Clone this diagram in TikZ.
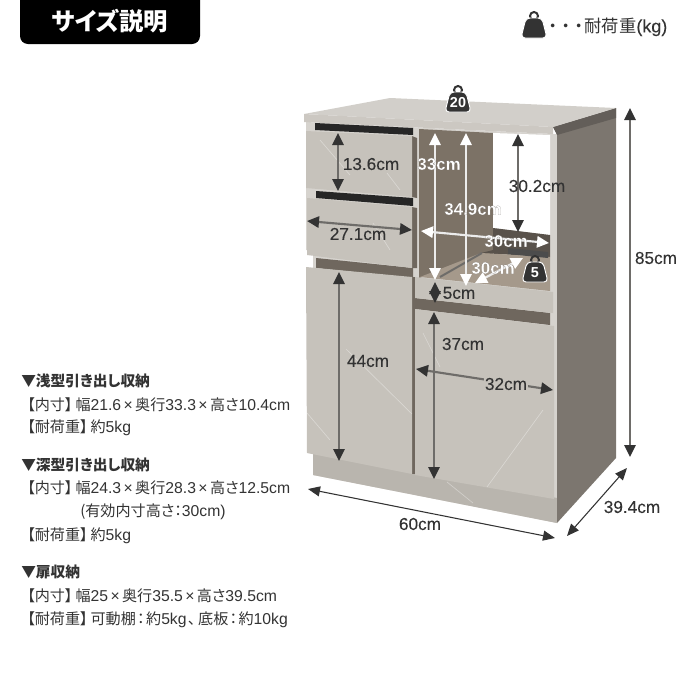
\documentclass[tikz,border=0pt]{standalone}
\usepackage{fontspec}
\usetikzlibrary{arrows.meta}
\setmainfont{Liberation Sans}
\newfontfamily\jpfont[Scale=0.96,RawFeature=+palt]{Noto Sans CJK JP}
\newcommand{\jp}[1]{{\jpfont #1}}
\newcommand{\whitecm}[1]{\bfseries\addfontfeature{FakeBold=0.1}\special{pdf:code 0.32 0.30 0.28 RG}#1}
\newcommand{\tm}{\kern1.8pt×\kern1.8pt}
\newcommand{\brk}{\kern2.2pt}
\definecolor{inkdark}{HTML}{333333}
\definecolor{shaftgray}{HTML}{6E6C69}
\definecolor{frontgray}{HTML}{C6C2BB}
\definecolor{topgray}{HTML}{D2CFCA}
\definecolor{carcass}{HTML}{D6D3CE}
\definecolor{sidegray}{HTML}{7C766F}
\definecolor{plinthgray}{HTML}{B9B5AE}
\definecolor{niche}{HTML}{7C7266}
\definecolor{floorgray}{HTML}{A5998B}
\definecolor{slotgray}{HTML}{6F675E}
\tikzset{
  dimdark/.style={draw=shaftgray,line width=1.6pt,
    {Triangle[length=9pt,width=8.5pt,color=inkdark,fill=inkdark]}-{Triangle[length=9pt,width=8.5pt,color=inkdark,fill=inkdark]}},
  dimwhite/.style={draw=white!85!gray,line width=1.6pt,
    {Triangle[length=9pt,width=8.5pt,color=white,fill=white]}-{Triangle[length=9pt,width=8.5pt,color=white,fill=white]}},
  dimthin/.style={draw=inkdark,line width=0.8pt,
    {Triangle[length=9pt,width=7.5pt,color=inkdark,fill=inkdark]}-{Triangle[length=9pt,width=7.5pt,color=inkdark,fill=inkdark]}},
  dimlabel/.style={inner sep=0pt,text=inkdark,font=\fontsize{12.9}{14}\selectfont\addfontfeature{FakeBold=0.1}},
  whitelabel/.style={inner sep=0pt,text=white,font=\fontsize{12.7}{14}\selectfont},
  specline/.style={inner sep=0pt,anchor=west,text=inkdark,font=\fontsize{11.8}{13}\selectfont},
  spechead/.style={inner sep=0pt,anchor=west,text=inkdark,font=\fontsize{11.5}{13}\selectfont\jpfont\bfseries},
  vein/.style={draw=white,line width=0.5pt,opacity=0.35},
  weightbag/.pic={
    \draw[inkdark,line width=1.5pt] (0,-9) circle (4);
    \draw[white,line width=0.7pt,fill=inkdark,rounded corners=3pt] (-8,-7) -- (8,-7) -- (13,13) -- (-13,13) -- cycle;
  }
}
\begin{document}
\begin{tikzpicture}[x=0.75pt,y=-0.75pt]
  \useasboundingbox (0,0) rectangle (690,690);
  % title and legend
  \fill[black,rounded corners=6pt] (20,-10) rectangle (200,44);
  \node[inner sep=0pt,text=white,font=\fontsize{19}{21}\selectfont\jpfont\bfseries] (title) at (110,21) {サイズ説明};
  \pic at (534,25) {weightbag};
  \node[inner sep=0pt,anchor=west,text=inkdark,font=\fontsize{13.5}{15}\selectfont\addfontfeature{FakeBold=0.1}] (legend) at (549,27) {\jp{・\kern3pt・\kern3pt・\kern1pt耐荷重}(kg)};
  % cabinet body
  \fill[carcass] (306,122) -- (553,134) -- (557,134) -- (557,523) -- (313,475) -- (313,250) -- (306,250) -- cycle;
  \fill[plinthgray] (313,453) -- (557,498) -- (557,523) -- (313,475) -- cycle;
  \fill[sidegray] (553,127) -- (616,108) -- (616,458) -- (557,523) -- (557,134) -- cycle;
  \fill[sidegray!80!black] (553,127) -- (616,108) -- (616,118) -- (557,135) -- cycle;
  \fill[topgray] (304,114) -- (390,98) -- (616,108) -- (553,127) -- cycle;
  \fill[frontgray!90!white] (304,114) -- (553,127) -- (553,134) -- (304,122) -- cycle;
  % open niche
  \fill[niche] (419,129) -- (493,133) -- (493,255) -- (419,278) -- cycle;
  \fill[white] (493,133) -- (550,135) -- (550,235) -- (493,228) -- cycle;
  \fill[slotgray!80!black] (493,228) -- (550,235) -- (550,257) -- (481,253) -- (493,250) -- cycle;
  \fill[floorgray] (420,277) -- (481,253) -- (550,257) -- (550,291) -- cycle;
  \fill[black!70] (508,248) -- (548,252) -- (548,258) -- (508,254) -- cycle;
  \draw[shaftgray,line width=1.5pt] (440,277) -- (482,253);
  % small drawer and slot under it
  \fill[slotgray] (415,298) -- (550,313) -- (550,325) -- (415,309) -- cycle;
  \fill[frontgray] (415,277) -- (553,292) -- (553,313) -- (415,298) -- cycle;
  % left side slots and fronts
  \fill[black!85] (315,123) -- (413,128) -- (413,135) -- (315,130) -- cycle;
  \fill[black!85] (316,191) -- (413,198) -- (413,206) -- (316,198) -- cycle;
  \fill[slotgray] (316,258) -- (413,268) -- (413,278) -- (316,268) -- cycle;
  \fill[slotgray] (412,136) -- (417,138) -- (417,198) -- (412,197) -- cycle;
  \fill[slotgray] (412,207) -- (417,208) -- (417,268) -- (412,268) -- cycle;
  \fill[slotgray] (412,277) -- (415,277) -- (415,474) -- (412,474) -- cycle;
  \fill[frontgray] (306,131) -- (412,136) -- (412,197) -- (306,188) -- cycle;
  \fill[frontgray] (307,198) -- (412,207) -- (412,268) -- (307,255) -- cycle;
  \fill[frontgray] (306,267) -- (412,277) -- (412,474) -- (307,453) -- cycle;
  \fill[frontgray] (415,309) -- (554,326) -- (554,499) -- (415,475) -- cycle;
  \foreach \xa/\ya/\xb/\yb in {
    346/349/412/414, 307/413/330/440, 487/487/543/410, 423/333/440/367,
    387/173/400/190, 373/223/390/250, 447/482/473/503, 320/140/350/175%
  }
    \draw[vein] (\xa,\ya) -- (\xb,\yb);
  % dimension arrows
  \foreach \dimname/\xa/\ya/\xb/\yb/\dimstyle in {
    drawera/338/133/338/191/dimdark, drawerb/307/221/412/230/dimdark,
    nicheh/518/134/518/232/dimdark, lowfront/435/282/435/303/dimdark,
    doorl/339/272/339/461/dimdark, doorr/434/312/434/479/dimdark,
    doorw/416/369/553/390/dimdark, total/630/108/630/457/dimdark,
    nichea/435/133/435/280/dimwhite, nicheb/466/133/466/286/dimwhite,
    nichew/421/231/549/243/dimwhite, niched/523/258/475/283/dimwhite,
    depth/627/468/567/536/dimthin, width/308/489/555/538/dimthin%
  }{
    \coordinate (\dimname a) at (\xa,\ya);
    \coordinate (\dimname b) at (\xb,\yb);
    \draw[\dimstyle] (\dimname a) -- (\dimname b);
  }
  % weights
  \pic at (458,99) {weightbag};
  \node[inner sep=0pt,text=white,font=\fontsize{10.8}{12}\selectfont\bfseries] (load20) at (458,103) {20};
  \pic at (535,269) {weightbag};
  \node[inner sep=0pt,text=white,font=\fontsize{10.8}{12}\selectfont\bfseries] (load5) at (535,273) {5};
  % labels
  \node[dimlabel] (l136) at (371,164) {13.6cm};
  \node[dimlabel] (l271) at (358,234) {27.1cm};
  \node[dimlabel] (l302) at (537,186) {30.2cm};
  \node[dimlabel] (l5) at (459,293) {5cm};
  \node[dimlabel] (l44) at (368,361) {44cm};
  \node[dimlabel] (l37) at (463,344) {37cm};
  \node[dimlabel,fill=frontgray,inner sep=1pt] (l32) at (506,384) {32cm};
  \node[dimlabel] (l85) at (656,258) {85cm};
  \node[dimlabel] (l60) at (420,524) {60cm};
  \node[dimlabel] (l394) at (632,507) {39.4cm};
  \node[whitelabel] (l33) at (439,164) {\whitecm{33cm}};
  \node[whitelabel] (l349) at (473,209) {\whitecm{34.9cm}};
  \node[whitelabel] (l30a) at (506,241) {\whitecm{30cm}};
  \node[whitelabel] (l30b) at (493,268) {\whitecm{30cm}};
  % storage notes
  \node[spechead] (s1) at (21,381) {▼浅型引き出し収納};
  \node[specline] (s1a) at (27,405) {\jp{【内寸】}\brk\jp{幅}21.6\tm\jp{奥行}33.3\tm\jp{高さ}10.4cm};
  \node[specline] (s1b) at (27,428) {\jp{【耐荷重】}\brk\jp{約}5kg};
  \node[spechead] (s2) at (21,465) {▼深型引き出し収納};
  \node[specline] (s2a) at (27,488) {\jp{【内寸】}\brk\jp{幅}24.3\tm\jp{奥行}28.3\tm\jp{高さ}12.5cm};
  \node[specline] (s2b) at (80,512) {\jp{(有効内寸高さ：}30cm)};
  \node[specline] (s2c) at (27,536) {\jp{【耐荷重】}\brk\jp{約}5kg};
  \node[spechead] (s3) at (21,572) {▼扉収納};
  \node[specline] (s3a) at (27,596) {\jp{【内寸】}\brk\jp{幅}25\tm\jp{奥行}35.5\tm\jp{高さ}39.5cm};
  \node[specline] (s3b) at (27,620) {\jp{【耐荷重】}\brk\jp{可動棚}\kern1pt\jp{：}\kern1pt\jp{約}5kg\kern1pt\jp{、}\kern2pt\jp{底板}\kern1pt\jp{：}\kern1pt\jp{約}10kg};
\end{tikzpicture}
\end{document}
